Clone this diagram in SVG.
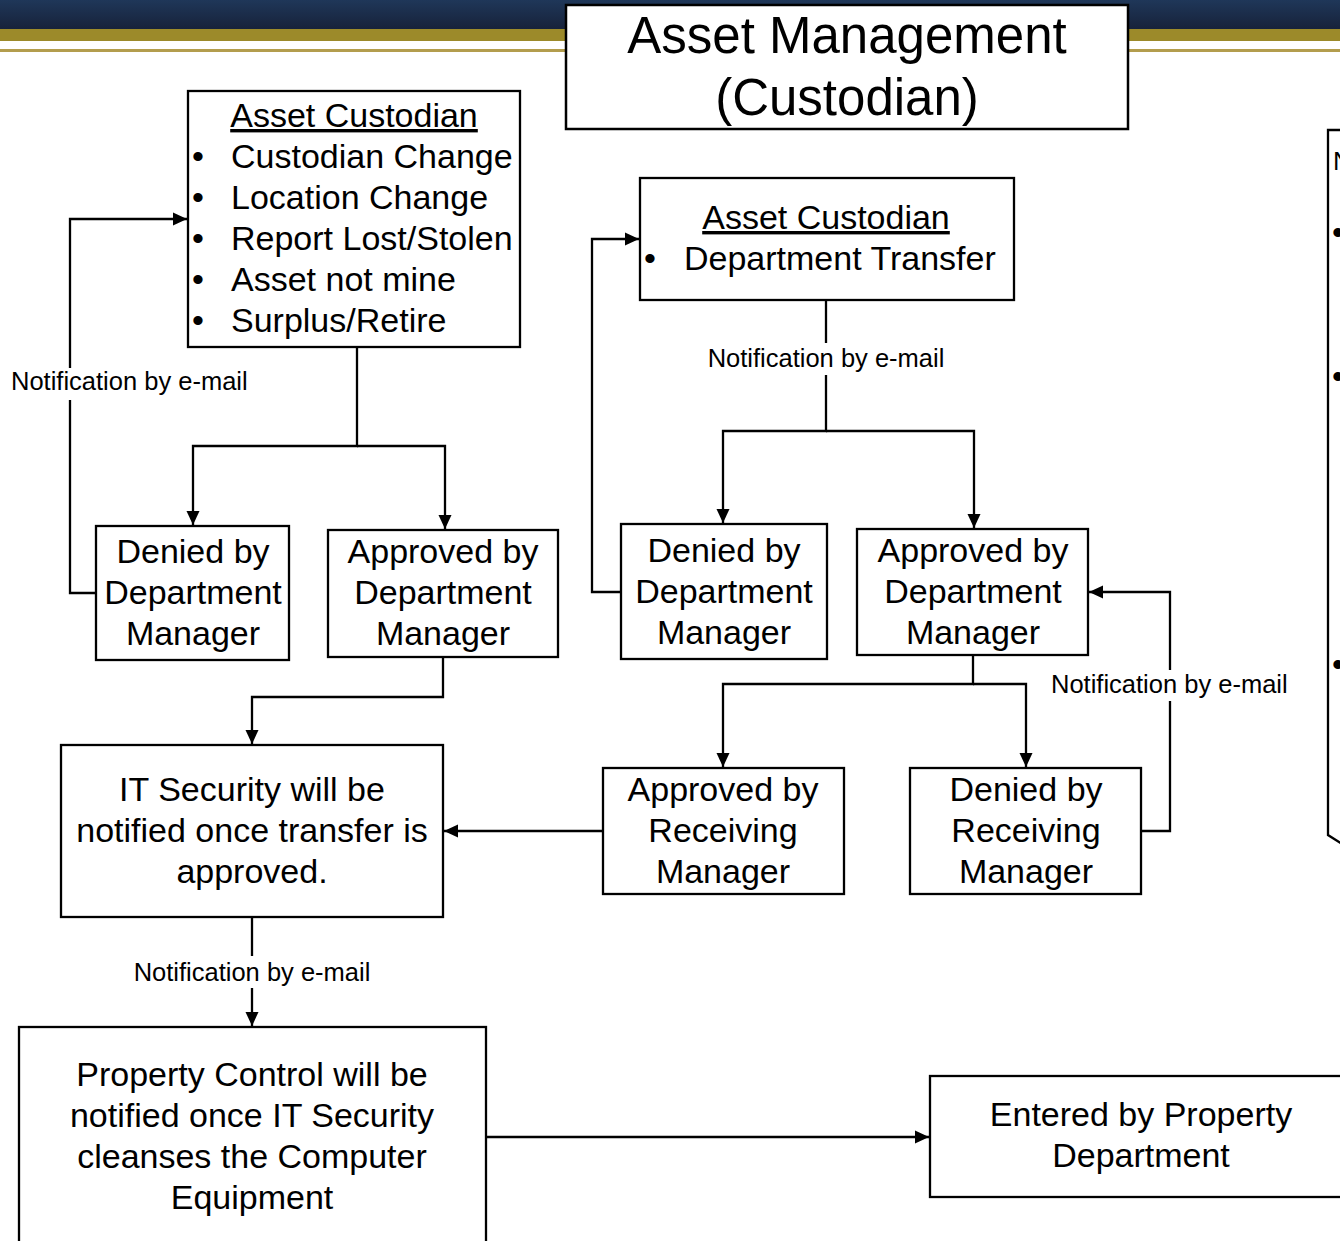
<svg xmlns="http://www.w3.org/2000/svg" width="1340" height="1241" viewBox="0 0 1340 1241">
  <defs>
    <linearGradient id="navy" x1="0" y1="0" x2="0" y2="1">
      <stop offset="0" stop-color="#1f3759"/>
      <stop offset="1" stop-color="#17223a"/>
    </linearGradient>
    <marker id="arrow" viewBox="0 0 14 14" refX="14" refY="7" markerWidth="14" markerHeight="14" markerUnits="userSpaceOnUse" orient="auto">
      <path d="M0,0.5 L14,7 L0,13.5 z" fill="#000"/>
    </marker>
  </defs>
  <style>
    .box { fill: #fff; stroke: #000; stroke-width: 2.3; }
    .t { font-family: "Liberation Sans", Arial, sans-serif; font-size: 34px; fill: #000; }
    .c { text-anchor: middle; }
    .u { text-decoration: underline; }
    .lbl { font-family: "Liberation Sans", Arial, sans-serif; font-size: 25.5px; fill: #000; }
    .ln { fill: none; stroke: #000; stroke-width: 2.3; }
    .arr { marker-end: url(#arrow); }
  </style>

  <rect width="1340" height="1241" fill="#fff"/>

  <!-- header band -->
  <g id="header">
    <rect x="0" y="0" width="1340" height="29" fill="url(#navy)"/>
    <rect x="0" y="29" width="1340" height="12" fill="#9c8a2a"/>
    <rect x="0" y="49" width="1340" height="3" fill="#b39d4d"/>
  </g>

  <g id="title">
    <rect x="566" y="5" width="562" height="124" fill="#fff" stroke="#000" stroke-width="2.5"/>
    <text class="t c" x="847" y="53" style="font-size:51px">Asset Management</text>
    <text class="t c" x="847" y="115" style="font-size:51px">(Custodian)</text>
  </g>

  <!-- connectors -->
  <g id="connectors">
    <!-- list box fan-out -->
    <path class="ln arr" d="M357,347 V446 H193 V525"/>
    <path class="ln arr" d="M357,446 H445 V529"/>
    <!-- denied -> back to custodian -->
    <path class="ln" d="M96,593 H70 V400"/>
    <path class="ln arr" d="M70,368 V219 H187"/>
    <!-- approved -> IT security -->
    <path class="ln arr" d="M443,657 V697 H252 V744"/>
    <!-- IT security -> property control -->
    <path class="ln" d="M252,917 V956"/>
    <path class="ln arr" d="M252,988 V1026"/>
    <!-- property control -> entered -->
    <path class="ln arr" d="M486,1137 H929"/>

    <!-- department transfer fan-out -->
    <path class="ln" d="M826,300 V343"/>
    <path class="ln arr" d="M826,375 V431 H723 V523"/>
    <path class="ln arr" d="M826,431 H974 V528"/>
    <!-- denied -> back to transfer -->
    <path class="ln arr" d="M621,592 H592 V239 H639"/>
    <!-- approved -> receiving managers -->
    <path class="ln arr" d="M973,655 V684 H723 V767"/>
    <path class="ln arr" d="M973,684 H1026 V767"/>
    <!-- denied by receiving -> back to approved -->
    <path class="ln" d="M1141,831 H1170 V701"/>
    <path class="ln arr" d="M1170,670 V592 H1089"/>
    <!-- approved by receiving -> IT security -->
    <path class="ln arr" d="M603,831 H444"/>

    <text class="lbl" x="11" y="390">Notification by e-mail</text>
    <text class="lbl c" x="826" y="367">Notification by e-mail</text>
    <text class="lbl" x="1051" y="693">Notification by e-mail</text>
    <text class="lbl c" x="252" y="981">Notification by e-mail</text>
  </g>

  <g id="custodian-list">
    <rect class="box" x="188" y="91" width="332" height="256"/>
    <text class="t c u" x="354" y="127">Asset Custodian</text>
    <text class="t c" x="198" y="168">•</text>
    <text class="t c" x="198" y="209">•</text>
    <text class="t c" x="198" y="250">•</text>
    <text class="t c" x="198" y="291">•</text>
    <text class="t c" x="198" y="332">•</text>
    <text class="t" x="231" y="168">Custodian Change</text>
    <text class="t" x="231" y="209">Location Change</text>
    <text class="t" x="231" y="250">Report Lost/Stolen</text>
    <text class="t" x="231" y="291">Asset not mine</text>
    <text class="t" x="231" y="332">Surplus/Retire</text>
  </g>

  <g id="denied-dept-1">
    <rect class="box" x="96" y="526" width="193" height="134"/>
    <text class="t c" x="193" y="563">Denied by</text>
    <text class="t c" x="193" y="604">Department</text>
    <text class="t c" x="193" y="645">Manager</text>
  </g>

  <g id="approved-dept-1">
    <rect class="box" x="328" y="530" width="230" height="127"/>
    <text class="t c" x="443" y="563">Approved by</text>
    <text class="t c" x="443" y="604">Department</text>
    <text class="t c" x="443" y="645">Manager</text>
  </g>

  <g id="it-security">
    <rect class="box" x="61" y="745" width="382" height="172"/>
    <text class="t c" x="252" y="801">IT Security will be</text>
    <text class="t c" x="252" y="842">notified once transfer is</text>
    <text class="t c" x="252" y="883">approved.</text>
  </g>

  <g id="property-control">
    <rect class="box" x="19" y="1027" width="467" height="230"/>
    <text class="t c" x="252" y="1086">Property Control will be</text>
    <text class="t c" x="252" y="1127">notified once IT Security</text>
    <text class="t c" x="252" y="1168">cleanses the Computer</text>
    <text class="t c" x="252" y="1209">Equipment</text>
  </g>

  <g id="entered-property">
    <rect class="box" x="930" y="1076" width="430" height="121"/>
    <text class="t c" x="1141" y="1126">Entered by Property</text>
    <text class="t c" x="1141" y="1167">Department</text>
  </g>

  <g id="custodian-transfer">
    <rect class="box" x="640" y="178" width="374" height="122"/>
    <text class="t c u" x="826" y="229">Asset Custodian</text>
    <text class="t c" x="650" y="270">•</text>
    <text class="t" x="684" y="270">Department Transfer</text>
  </g>

  <g id="denied-dept-2">
    <rect class="box" x="621" y="524" width="206" height="135"/>
    <text class="t c" x="724" y="562">Denied by</text>
    <text class="t c" x="724" y="603">Department</text>
    <text class="t c" x="724" y="644">Manager</text>
  </g>

  <g id="approved-dept-2">
    <rect class="box" x="857" y="529" width="231" height="126"/>
    <text class="t c" x="973" y="562">Approved by</text>
    <text class="t c" x="973" y="603">Department</text>
    <text class="t c" x="973" y="644">Manager</text>
  </g>

  <g id="approved-receiving">
    <rect class="box" x="603" y="768" width="241" height="126"/>
    <text class="t c" x="723" y="801">Approved by</text>
    <text class="t c" x="723" y="842">Receiving</text>
    <text class="t c" x="723" y="883">Manager</text>
  </g>

  <g id="denied-receiving">
    <rect class="box" x="910" y="768" width="231" height="126"/>
    <text class="t c" x="1026" y="801">Denied by</text>
    <text class="t c" x="1026" y="842">Receiving</text>
    <text class="t c" x="1026" y="883">Manager</text>
  </g>

  <!-- side panel running past the right edge -->
  <g id="side-panel">
    <path d="M1342,130 H1328 V835 L1342,844" fill="#fff" stroke="#000" stroke-width="2.3"/>
    <text class="lbl" x="1333" y="170" style="font-size:26px">N</text>
    <text class="t c" x="1338" y="244">•</text>
    <text class="t c" x="1338" y="388">•</text>
    <text class="t c" x="1338" y="676">•</text>
  </g>
</svg>
